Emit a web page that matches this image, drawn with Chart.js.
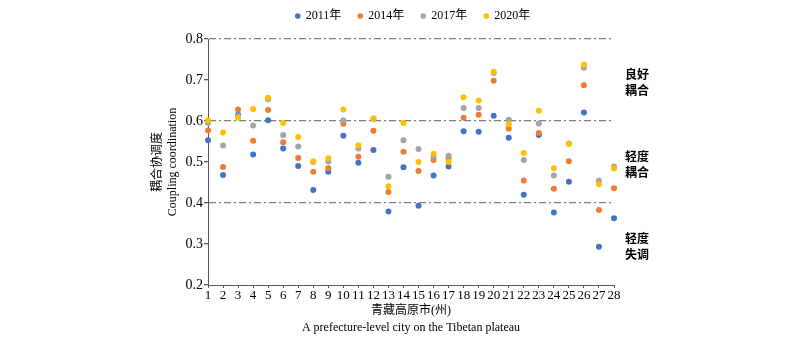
<!DOCTYPE html>
<html>
<head>
<meta charset="utf-8">
<script src="https://cdn.jsdelivr.net/npm/chart.js@4"></script>
<style>
  html, body { margin: 0; padding: 0; background: #fff; }
  canvas { display: block; }
</style>
</head>
<body>
<canvas id="coupling" width="800" height="348"></canvas>
<script>
// 28 prefecture-level cities, coupling coordination by year
const cities = ['1', '2', '3', '4', '5', '6', '7', '8', '9', '10', '11', '12', '13', '14',
  '15', '16', '17', '18', '19', '20', '21', '22', '23', '24', '25', '26', '27', '28'];
const years = ['2011年', '2014年', '2017年', '2020年'];
const colors = ['#4472C4', '#ED7D31', '#A5A5A5', '#FFC000'];

const v2011 = [0.553, 0.468, 0.615, 0.518, 0.602, 0.533, 0.490, 0.432, 0.476, 0.564, 0.498, 0.529, 0.379, 0.487,
  0.393, 0.467, 0.489, 0.575, 0.574, 0.613, 0.559, 0.420, 0.566, 0.377, 0.452, 0.621, 0.293, 0.363];
const v2014 = [0.577, 0.488, 0.628, 0.552, 0.627, 0.548, 0.510, 0.476, 0.485, 0.593, 0.513, 0.576, 0.427, 0.525,
  0.478, 0.505, 0.510, 0.608, 0.615, 0.698, 0.581, 0.455, 0.571, 0.435, 0.502, 0.687, 0.383, 0.436];
const v2017 = [0.595, 0.540, 0.612, 0.589, 0.653, 0.566, 0.538, 0.500, 0.501, 0.602, 0.533, 0.605, 0.464, 0.553,
  0.532, 0.513, 0.515, 0.632, 0.632, 0.717, 0.603, 0.505, 0.594, 0.467, 0.545, 0.730, 0.454, 0.489];
const v2020 = [0.601, 0.572, 0.608, 0.629, 0.657, 0.595, 0.561, 0.502, 0.509, 0.628, 0.541, 0.607, 0.441, 0.595,
  0.500, 0.520, 0.500, 0.658, 0.650, 0.720, 0.592, 0.522, 0.625, 0.485, 0.544, 0.738, 0.446, 0.484];

// coupling level bands and their names (bottom to top)
const bandEdges = [0.2, 0.4, 0.6, 0.8];
const levelNames = [['轻度', '失调'], ['轻度', '耦合'], ['良好', '耦合']];

const serif = '"Liberation Serif", "Noto Sans CJK SC", serif';
const axisColor = '#595959';
const bandLines = bandEdges.slice(1);
const bandMids = bandEdges.slice(1).map((e, i) => (e + bandEdges[i]) / 2);
const isBandLine = v => bandLines.some(b => Math.abs(b - v) < 1e-6);

const series = [v2011, v2014, v2017, v2020];
const datasets = series.map((vals, i) => ({
  label: years[i],
  data: vals,
  showLine: false,
  backgroundColor: colors[i],
  borderColor: colors[i],
  pointRadius: 3,
  pointHoverRadius: 3,
  pointBorderWidth: 0,
  order: series.length - 1 - i   // later years drawn on top
}));

new Chart(document.getElementById('coupling'), {
  type: 'line',
  data: { labels: cities, datasets },
  options: {
    responsive: false,
    animation: false,
    layout: { padding: { left: 26, right: 0, top: -7, bottom: 0 } },
    plugins: {
      tooltip: { enabled: false },
      legend: {
        position: 'top',
        labels: {
          usePointStyle: true,
          pointStyle: 'circle',
          boxWidth: 4,
          boxHeight: 4,
          padding: 17,
          color: '#000',
          font: { family: serif, size: 12 },
          sort: (a, b) => a.datasetIndex - b.datasetIndex
        }
      },
      // empty spacer between legend and plot
      subtitle: {
        display: true,
        text: '',
        weight: 500,
        font: { size: 1, lineHeight: 1 },
        padding: { top: 0, bottom: 6 }
      }
    },
    scales: {
      x: {
        type: 'category',
        offset: false,
        grid: { color: 'rgba(0,0,0,0)', drawTicks: true, tickColor: axisColor, tickLength: 3 },
        border: { color: axisColor, width: 1 },
        ticks: { color: '#000', font: { family: serif, size: 13 }, padding: 0, maxRotation: 0, autoSkip: false },
        title: {
          display: true,
          text: ['青藏高原市(州)', 'A prefecture-level city on the Tibetan plateau'],
          color: '#000',
          font: { family: serif, size: 12, lineHeight: 1.4 },
          padding: { top: 0, bottom: 12 }
        },
        afterFit: s => { s.height = 63; }
      },
      y: {
        type: 'linear',
        position: 'left',
        min: 0.2,
        max: 0.8,
        ticks: {
          stepSize: 0.1,
          color: '#000',
          padding: 1,
          font: { family: serif, size: 14 },
          callback: v => v.toFixed(1)
        },
        grid: {
          color: c => (c.tick && isBandLine(c.tick.value)) ? '#7f7f7f' : 'rgba(0,0,0,0)',
          lineWidth: 1.3,
          tickColor: axisColor,
          tickLength: 4
        },
        border: { color: axisColor, width: 1, dash: [7, 3, 2, 3] },
        title: {
          display: true,
          text: ['耦合协调度', 'Coupling coordination'],
          color: '#000',
          font: { family: serif, size: 12, lineHeight: 1.25 },
          padding: { top: 124, bottom: 0 }
        },
        afterFit: s => { s.width = 182; }
      },
      levels: {
        type: 'linear',
        axis: 'y',
        position: 'right',
        min: 0.2,
        max: 0.8,
        afterBuildTicks: s => { s.ticks = bandMids.map(v => ({ value: v })); },
        ticks: {
          color: '#000',
          padding: 11,
          labelOffset: 4,
          font: { family: serif, size: 12, weight: 'bold', lineHeight: 1.4 },
          callback: (v, i) => levelNames[i]
        },
        grid: { display: false, drawTicks: false },
        border: { display: false },
        afterFit: s => { s.width = 186; }
      }
    }
  }
});
</script>
</body>
</html>
